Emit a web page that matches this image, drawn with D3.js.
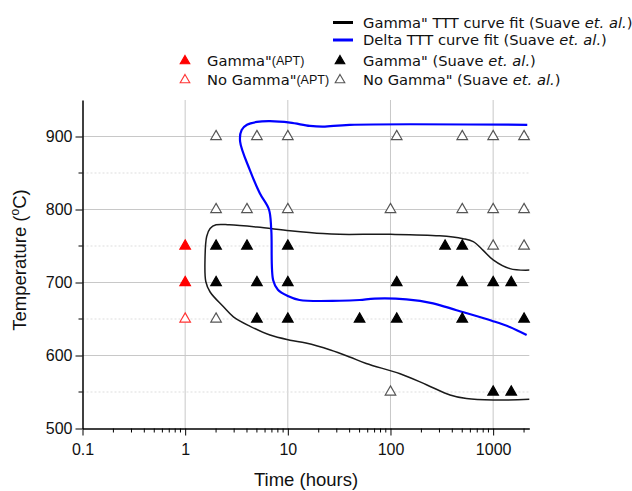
<!DOCTYPE html>
<html>
<head>
<meta charset="utf-8">
<script src="https://cdn.jsdelivr.net/npm/d3@7"></script>
<style>
  body { margin: 0; background: #fff; }
  text { font-family: "Liberation Sans", Arial, sans-serif; }
  .leg { font-family: "DejaVu Sans", Verdana, sans-serif; font-size: 14.7px; }
</style>
</head>
<body>
<script>
var width = 632;
var height = 491;

// axes
var xTicks = [0.1, 1, 10, 100, 1000];
var yTicks = [500, 600, 700, 800, 900];
var yMinor = [550, 650, 750, 850];

// APT points (time h, temp C)
var aptGamma = [[1, 750], [1, 700]];
var aptNoGamma = [[1, 650]];

// Suave et al. points
var suaveGamma = [
  [2, 750], [4, 750], [10, 750], [340, 750], [500, 750],
  [2, 700], [5, 700], [10, 700], [115, 700], [500, 700], [1000, 700], [1500, 700],
  [5, 650], [10, 650], [50, 650], [115, 650], [500, 650], [2000, 650],
  [1000, 550], [1500, 550]
];
var suaveNoGamma = [
  [2, 900], [5, 900], [10, 900], [115, 900], [500, 900], [1000, 900], [2000, 900],
  [2, 800], [4, 800], [10, 800], [100, 800], [500, 800], [1000, 800], [2000, 800],
  [1000, 750], [2000, 750],
  [2, 650],
  [100, 550]
];

// TTT curve fits
var gammaCurve = [[2250, 717], [1455, 719], [1000, 731], [800, 744], [640, 756], [510, 760], [300, 764],
  [100, 766], [32, 766], [22, 767], [10.5, 771], [5, 776], [2.7, 779], [2, 779], [1.75, 774], [1.62, 763],
  [1.56, 731], [1.59, 701], [1.75, 687], [2.35, 667], [2.95, 653], [4.3, 640], [6.7, 628], [10.5, 621],
  [15, 617], [26, 607.5], [40, 598], [58, 589], [124, 575], [224, 560], [380, 546], [550, 541],
  [1000, 539], [2250, 540]];
var deltaCurve = [[2150, 916], [40, 916], [22, 913.5], [16.4, 914.5], [10.5, 919], [6.7, 921], [5, 920],
  [4, 916], [3.55, 909], [3.43, 893], [4.27, 854], [5.35, 822], [6.55, 800], [6.9, 772], [7.2, 703],
  [8, 690], [10, 681.5], [13, 676], [32, 675], [50, 676], [70, 678], [143, 677], [260, 671.5],
  [440, 662], [1000, 647], [1450, 639], [2120, 628]];

var svg = d3.select("body").append("svg")
  .attr("width", width)
  .attr("height", height);

var x = d3.scaleLog().domain([0.1, 2250]).range([82.5, 529.3]);
var y = d3.scaleLinear().domain([500, 950]).range([428.5, 100]);

// grid
var xMajorGrid = xTicks.slice(1);
svg.append("g").selectAll("line").data(xMajorGrid).enter().append("line")
  .attr("x1", function(d) { return x(d); }).attr("x2", function(d) { return x(d); })
  .attr("y1", y(950)).attr("y2", y(500))
  .attr("stroke", "#c8c8c8").attr("stroke-width", 1);
svg.append("g").selectAll("line").data(yTicks.slice(1)).enter().append("line")
  .attr("x1", x(0.1)).attr("x2", x(2250))
  .attr("y1", function(d) { return y(d); }).attr("y2", function(d) { return y(d); })
  .attr("stroke", "#c8c8c8").attr("stroke-width", 1);
svg.append("g").selectAll("line").data(yMinor).enter().append("line")
  .attr("x1", x(0.1)).attr("x2", x(2250))
  .attr("y1", function(d) { return y(d); }).attr("y2", function(d) { return y(d); })
  .attr("stroke", "#dddddd").attr("stroke-width", 1)
  .style("stroke-dasharray", "2, 2");

// axes
var xMinorTicks = [];
for (var dec = 0.1; dec < 2000; dec *= 10) {
  for (var m = 2; m <= 9; m++) {
    var v = Math.round(dec * m * 1000) / 1000;
    if (v <= 2250) xMinorTicks.push(v);
  }
}
var xAxis = svg.append("g").attr("transform", "translate(0," + y(500) + ")");
xAxis.call(d3.axisBottom(x).tickValues(xTicks).tickFormat(d3.format("~g")).tickSize(7).tickSizeOuter(0));
xAxis.selectAll(".minor").data(xMinorTicks).enter().append("line")
  .attr("class", "minor")
  .attr("x1", function(d) { return x(d); }).attr("x2", function(d) { return x(d); })
  .attr("y1", 0).attr("y2", 4).attr("stroke", "#000");

var yAxis = svg.append("g").attr("transform", "translate(" + x(0.1) + ",0)");
yAxis.call(d3.axisLeft(y).tickValues(yTicks).tickSize(7).tickSizeOuter(0));
yAxis.selectAll(".minor").data(yMinor).enter().append("line")
  .attr("class", "minor")
  .attr("x1", 0).attr("x2", -4)
  .attr("y1", function(d) { return y(d); }).attr("y2", function(d) { return y(d); })
  .attr("stroke", "#000");

svg.selectAll(".domain").attr("stroke", "#000").attr("stroke-width", 1.5);
svg.selectAll(".tick line").attr("stroke", "#000");
svg.selectAll(".tick text")
  .attr("font-family", "Liberation Sans, Arial, sans-serif")
  .attr("font-size", 16).attr("fill", "#111");
xAxis.selectAll(".tick text").attr("dy", "1.05em");

// axis titles
svg.append("text")
  .attr("x", 306).attr("y", 486)
  .attr("text-anchor", "middle")
  .attr("font-size", 18.5).attr("fill", "#111")
  .text("Time (hours)");

var ylab = svg.append("text")
  .attr("transform", "translate(26,260) rotate(-90)")
  .attr("text-anchor", "middle")
  .attr("font-size", 18.5).attr("fill", "#111");
ylab.append("tspan").text("Temperature (");
ylab.append("tspan").attr("font-size", 12).attr("dy", -7).text("o");
ylab.append("tspan").attr("dy", 7).text("C)");

// curves
var line = d3.line()
  .x(function(d) { return x(d[0]); })
  .y(function(d) { return y(d[1]); });

svg.append("path")
  .datum(gammaCurve)
  .attr("d", line.curve(d3.curveCatmullRom.alpha(0.5)))
  .attr("fill", "none").attr("stroke", "#1a1a1a").attr("stroke-width", 1.5);

svg.append("path")
  .datum(deltaCurve)
  .attr("d", line.curve(d3.curveCatmullRom.alpha(0.5)))
  .attr("fill", "none").attr("stroke", "#0000ff").attr("stroke-width", 2.2);

// markers
var tri = d3.symbol().type(d3.symbolTriangle).size(48);

function drawPoints(data, fill, stroke) {
  svg.append("g").selectAll("path").data(data).enter().append("path")
    .attr("d", tri)
    .attr("transform", function(d) { return "translate(" + x(d[0]) + "," + y(d[1]) + ")"; })
    .attr("fill", fill)
    .attr("stroke", stroke)
    .attr("stroke-width", 1.2);
}
drawPoints(suaveNoGamma, "#fff", "#555");
drawPoints(suaveGamma, "#000", "#000");
drawPoints(aptNoGamma, "#fff", "#ff3333");
drawPoints(aptGamma, "#ff0000", "#ff0000");

// legend
var leg = svg.append("g");
leg.append("line").attr("x1", 333).attr("x2", 353).attr("y1", 22.5).attr("y2", 22.5)
  .attr("stroke", "#000").attr("stroke-width", 3);
leg.append("line").attr("x1", 333).attr("x2", 353).attr("y1", 40).attr("y2", 40)
  .attr("stroke", "#0000ff").attr("stroke-width", 3);

function legText(xp, yp, parts) {
  var t = leg.append("text").attr("class", "leg").attr("x", xp).attr("y", yp).attr("fill", "#111");
  parts.forEach(function(p) {
    var s = t.append("tspan").text(p.t);
    if (p.i) s.style("font-style", "italic");
    if (p.s) s.style("font-size", "12.5px").style("font-family", "Liberation Sans, Arial, sans-serif")
      .attr("dy", -1);
  });
}
legText(363, 27.5, [{t: "Gamma\" TTT curve fit (Suave "}, {t: "et. al.", i: true}, {t: ")"}]);
legText(363, 45, [{t: "Delta TTT curve fit (Suave "}, {t: "et. al.", i: true}, {t: ")"}]);
legText(363, 66, [{t: "Gamma\" (Suave "}, {t: "et. al.", i: true}, {t: ")"}]);
legText(363, 85, [{t: "No Gamma\" (Suave "}, {t: "et. al.", i: true}, {t: ")"}]);
legText(207, 66, [{t: "Gamma\""}, {t: "(APT)", s: true}]);
legText(207, 85, [{t: "No Gamma\""}, {t: "(APT)", s: true}]);

var legMarks = [[185, 61, "#ff0000", "#ff0000"], [185, 80, "#fff", "#ff3333"],
  [340, 61, "#000", "#000"], [340, 80, "#fff", "#555"]];
leg.selectAll(".lm").data(legMarks).enter().append("path")
  .attr("class", "lm")
  .attr("d", d3.symbol().type(d3.symbolTriangle).size(40))
  .attr("transform", function(d) { return "translate(" + d[0] + "," + d[1] + ")"; })
  .attr("fill", function(d) { return d[2]; })
  .attr("stroke", function(d) { return d[3]; })
  .attr("stroke-width", 1.1);
</script>
</body>
</html>
